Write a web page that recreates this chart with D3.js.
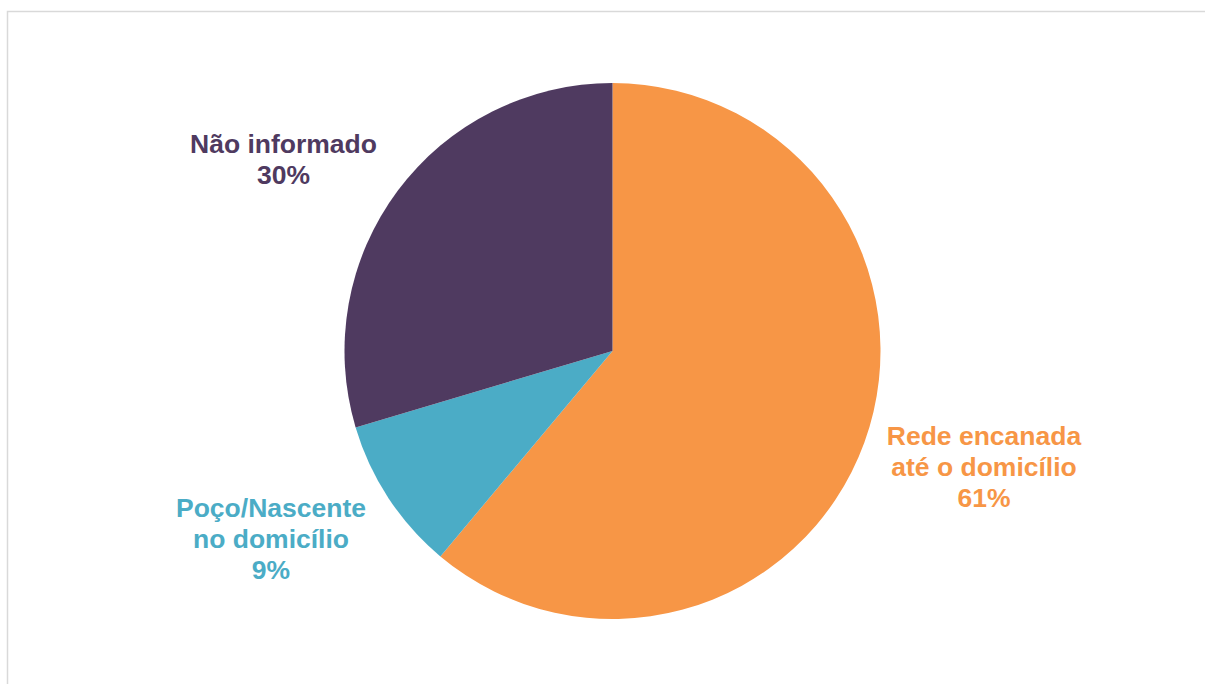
<!DOCTYPE html>
<html>
<head>
<meta charset="utf-8">
<script src="https://cdn.jsdelivr.net/npm/d3@7"></script>
<style>
  html, body { margin: 0; padding: 0; background: #ffffff; }
  svg { display: block; }
</style>
</head>
<body>
<svg id="chart" width="1205" height="684"></svg>
<script>
// ---- data ----
const categories = ["Rede encanada até o domicílio", "Poço/Nascente no domicílio", "Não informado"];
const labelLines = [["Rede encanada", "até o domicílio"], ["Poço/Nascente", "no domicílio"], ["Não informado"]];
const values = [61.1, 9.3, 29.6];
const colors = ["#F79646", "#4BACC6", "#4F3A60"];

// ---- layout (not data) ----
const W = 1205, H = 684;
const cx = 612.5, cy = 351, R = 268;
const labelAnchors = [ [984, 445], [271, 517], [283.5, 153] ]; // first-line baseline positions
const lineH = 31;

const svg = d3.select("#chart");

// frame
svg.append("rect")
  .attr("x", 7.5).attr("y", 11.5)
  .attr("width", W + 10).attr("height", H + 10)
  .attr("fill", "none").attr("stroke", "#d9d9d9").attr("stroke-width", 1.5);

const total = d3.sum(values);
const pie = d3.pie().sort(null).value(d => d)(values);
const arc = d3.arc().innerRadius(0).outerRadius(R);

const g = svg.append("g").attr("transform", `translate(${cx},${cy})`);
g.selectAll("path").data(pie).join("path")
  .attr("d", arc)
  .attr("fill", (d, i) => colors[i]);

const fmt = d3.format(".0%");
const labels = svg.append("g");
pie.forEach((d, i) => {
  const lines = labelLines[i].concat([fmt(values[i] / total)]);
  const t = labels.append("text")
    .attr("text-anchor", "middle")
    .attr("font-family", "'Liberation Sans', Arial, sans-serif")
    .attr("font-weight", "bold")
    .attr("font-size", 26.5)
    .attr("fill", colors[i]);
  lines.forEach((ln, k) => {
    t.append("tspan")
      .attr("x", labelAnchors[i][0])
      .attr("y", labelAnchors[i][1] + k * lineH)
      .text(ln);
  });
});
</script>
</body>
</html>
